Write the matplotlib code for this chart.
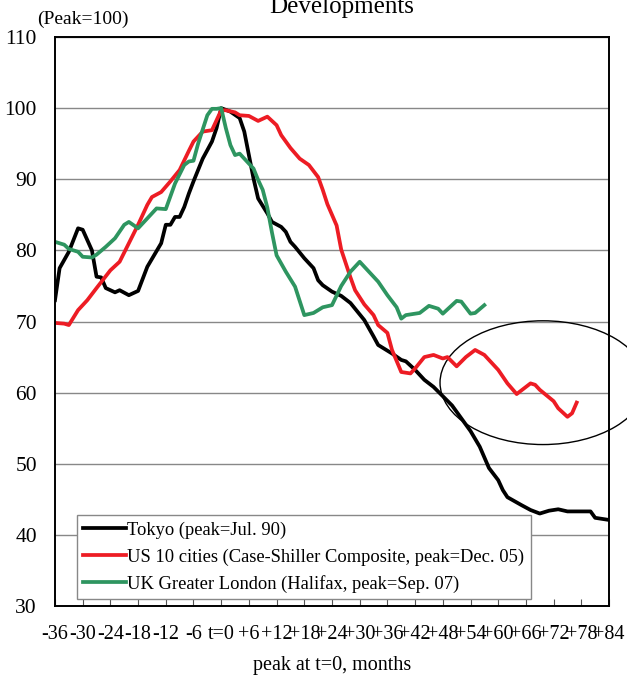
import matplotlib
matplotlib.use("Agg")
import matplotlib.pyplot as plt
from matplotlib.patches import Ellipse

plt.rcParams['font.family'] = ['Liberation Serif', 'DejaVu Serif']

# months relative to peak (t=0) and index values (peak=100)
tokyo_m = [-36, -35, -33, -31, -30, -28, -27, -26, -25, -23, -22, -20, -18, -16, -13, -12, -11, -10,
           -9, -8, -7, -6, -4, -2, -1, 0, 2, 4, 5, 6, 7, 8, 10, 11, 13, 14, 15, 16, 18, 20, 21, 22,
           24, 26, 28, 31, 33, 34, 37, 39, 40, 42, 44, 46, 48, 50, 52, 54, 56, 58, 60, 61, 62, 65,
           67, 69, 71, 73, 75, 78, 80, 81, 84]
tokyo_v = [73.0, 77.5, 79.8, 83.1, 82.9, 80.0, 76.3, 76.2, 74.7, 74.1, 74.4, 73.7, 74.3, 77.7, 81.0,
           83.6, 83.6, 84.7, 84.7, 86.1, 88.0, 89.7, 92.9, 95.3, 97.2, 100.0, 99.5, 98.6, 96.7, 93.4,
           90.1, 87.3, 85.2, 84.0, 83.3, 82.6, 81.2, 80.5, 78.9, 77.5, 75.8, 75.1, 74.2, 73.6, 72.6,
           70.2, 67.9, 66.7, 65.5, 64.6, 64.4, 63.2, 61.8, 60.8, 59.5, 58.2, 56.4, 54.6, 52.4, 49.4,
           47.7, 46.3, 45.3, 44.2, 43.5, 43.0, 43.4, 43.6, 43.3, 43.3, 43.3, 42.4, 42.1]

us_m = [-36, -34, -33, -31, -29, -27, -24, -22, -20, -18, -16, -15, -13, -11, -9, -7, -6, -4, -2,
        -1, 0, 1, 3, 4, 6, 8, 10, 12, 13, 15, 17, 19, 21, 22, 23, 25, 26, 28, 29, 31, 33, 34, 36,
        37, 39, 41, 42, 44, 46, 48, 49, 51, 53, 55, 57, 60, 62, 64, 65, 67, 68, 69, 72, 73, 75,
        76, 77]
us_v = [69.8, 69.7, 69.5, 71.6, 73.0, 74.7, 77.2, 78.4, 81.0, 83.6, 86.4, 87.5, 88.2, 89.7, 91.3,
        94.0, 95.3, 96.7, 96.9, 98.3, 99.7, 99.7, 99.4, 99.0, 98.9, 98.2, 98.8, 97.6, 96.2, 94.4,
        92.9, 92.0, 90.3, 88.5, 86.5, 83.5, 80.1, 76.2, 74.4, 72.4, 70.9, 69.5, 68.4, 66.0, 62.9,
        62.7, 63.4, 65.0, 65.3, 64.8, 65.0, 63.7, 65.0, 66.0, 65.3, 63.2, 61.3, 59.8, 60.3, 61.3,
        61.1, 60.4, 58.8, 57.8, 56.6, 57.1, 58.6]

uk_m = [-36, -34, -33, -31, -30, -28, -27, -25, -23, -21, -20, -18, -16, -14, -12, -10, -8, -7,
        -6, -5, -3, -2, -1, 0, 1, 2, 3, 4, 5, 7, 8, 9, 10, 11, 12, 14, 16, 18, 20, 22, 24, 26, 28,
        30, 32, 34, 36, 38, 39, 40, 42, 43, 45, 47, 48, 51, 52, 54, 55, 57]
uk_v = [81.2, 80.8, 80.2, 79.8, 79.1, 79.0, 79.4, 80.5, 81.7, 83.6, 84.0, 83.1, 84.5, 85.9, 85.8,
        89.4, 92.0, 92.5, 92.6, 95.0, 99.0, 99.9, 99.9, 100.0, 97.2, 94.8, 93.4, 93.6, 92.9, 91.5,
        89.9, 88.5, 86.0, 82.5, 79.3, 77.0, 74.9, 70.9, 71.2, 72.0, 72.3, 75.0, 77.0, 78.4, 77.0,
        75.6, 73.7, 72.0, 70.4, 70.9, 71.1, 71.2, 72.2, 71.8, 71.1, 72.9, 72.8, 71.1, 71.2, 72.3]

x_ticks = list(range(-36, 85, 6))
x_labels = ['-36', '-30', '-24', '-18', '-12', '-6', 't=0', '+6', '+12', '+18', '+24', '+30',
            '+36', '+42', '+48', '+54', '+60', '+66', '+72', '+78', '+84']

fig = plt.figure(figsize=(6.27, 6.75), dpi=100)
ax = fig.add_axes([0.0877, 0.1022, 0.8836, 0.8430])

ax.plot(tokyo_m, tokyo_v, color='black', lw=2.7, label='Tokyo (peak=Jul. 90)')
ax.plot(us_m, us_v, color='#ED1C24', lw=2.7, label='US 10 cities (Case-Shiller Composite, peak=Dec. 05)')
ax.plot(uk_m, uk_v, color='#2E9560', lw=2.7, label='UK Greater London (Halifax, peak=Sep. 07)')

ax.set_xlim(-36, 84)
ax.set_ylim(30, 110)
ax.set_yticks(range(30, 111, 10))
ax.set_xticks(x_ticks)
ax.set_xticklabels(x_labels)
ax.yaxis.grid(True, color='#888888', lw=1)
ax.set_axisbelow(True)
ax.tick_params(axis='x', direction='in', length=5, labelsize=14.5, pad=14, color='#555555')
ax.tick_params(axis='y', direction='in', length=0, labelsize=15.5, pad=13)
for s in ax.spines.values():
    s.set_linewidth(1.4)
    s.set_color('black')

ax.set_xlabel('peak at t=0, months', fontsize=14.5, labelpad=8)

leg = ax.legend(loc='lower left', bbox_to_anchor=(0.039, 0.012), fontsize=13.3,
                handlelength=2.3, handletextpad=0.1, borderpad=0.35, labelspacing=0.5,
                fancybox=False, framealpha=1, edgecolor='#888888', borderaxespad=0)
leg.get_frame().set_linewidth(1)

ell = Ellipse((69.7, 61.4), 44.6, 17.4, fill=False, edgecolor='black', lw=1, clip_on=False)
ax.add_patch(ell)

fig.text(0.545, 0.98, 'Developments', ha='center', va='baseline', fontsize=18)
fig.text(0.06, 0.965, '(Peak=100)', ha='left', va='baseline', fontsize=14)

fig.savefig('out.png', dpi=100)
